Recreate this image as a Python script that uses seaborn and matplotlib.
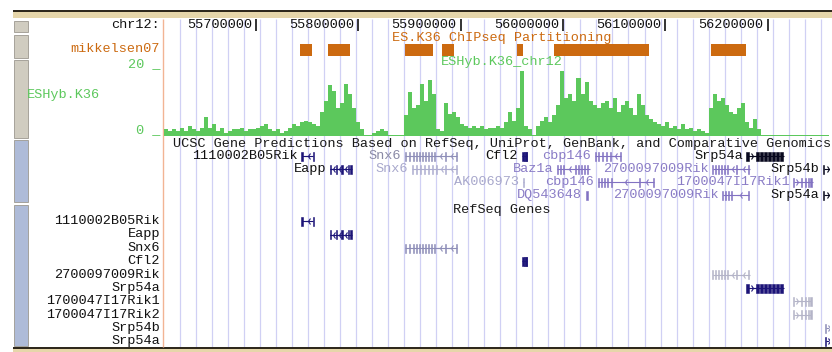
import matplotlib.pyplot as plt
import matplotlib.patches as mpatches
import numpy as np
import pandas as pd
import seaborn as sns

W, H = 832, 352

# browser window on chr12
view_start = 55609000
view_end = 56260000
ruler_ticks = [55700000, 55800000, 55900000, 56000000, 56100000, 56200000]
title_pos = 55940000

# ES.K36 ChIPseq Partitioning (mikkelsen07) enriched intervals
k36_starts = [55743000, 55770400, 55845800, 55882000, 55955400, 55991600, 56144200]
k36_ends = [55754800, 55792000, 55873200, 55893700, 55961300, 56084500, 56178500]

# ESHyb.K36_chr12 wiggle, one value per bin (0-20 scale)
wig_start = 55612000
wig_step = 3914
wig_values = [
    2, 1.5, 2, 1.5, 2.5, 1.5, 3, 2, 1.5, 2.5,
    5.5, 2.5, 3.5, 1.5, 2.5, 1, 1.5, 2, 2, 2.5,
    1.5, 2, 2, 2.5, 3, 3.5, 2, 1.5, 2, 1,
    1.5, 2.5, 3.5, 3, 4, 4.5, 4, 3.5, 3, 7,
    10, 14.5, 13, 8, 9.5, 15, 12, 8, 4, 2,
    0.5, 0.5, 1, 1.5, 2, 1.5, 0.3, 0.3, 0.3, 0.5,
    6, 12.5, 8, 9, 15, 10, 16, 12, 2, 1.5,
    9.5, 6.5, 7, 5.5, 3.5, 3, 2.5, 3, 2.5, 3,
    2, 2.5, 2.5, 3, 2.5, 4, 7, 4.5, 8, 18.5,
    3, 2, 0.5, 3, 4.5, 5.5, 4, 6, 9, 18.5,
    11, 12, 10, 16.5, 12, 15.5, 10, 9, 8, 9.5,
    10, 8, 11, 7, 9, 10, 8, 6, 12, 9,
    6, 5, 4, 3.5, 3, 4, 2.5, 3, 2, 3.5,
    2, 2.5, 1.5, 2, 1.5, 1, 8, 12, 10, 11,
    9, 7, 6.5, 8, 9.5, 4, 2.5, 5, 2,
    0.3, 0.3, 0.3, 0.3, 0.3, 0.3, 0.3, 0.3, 0.3,
    0.3, 0.3, 0.3, 0.3, 0.3, 0.3, 0.3, 0.3, 0.3,
]

# UCSC Gene Predictions (packed rows)
ucsc_names = ["1110002B05Rik", "Snx6", "Cfl2", "cbp146", "Srp54a",
              "Eapp", "Snx6", "Baz1a", "2700097009Rik", "Srp54b",
              "AK006973", "cbp146", "1700047I17Rik1",
              "DQ543648", "2700097009Rik", "Srp54a"]
ucsc_rows = [0, 0, 0, 0, 0, 1, 1, 1, 1, 1, 2, 2, 2, 3, 3, 3]
ucsc_starts = [55745000, 55845800, 55960300, 56031700, 56180400,
               55772400, 55852600, 55994500, 56146200, 56254800,
               55961300, 56034600, 56225500,
               56023000, 56156000, 56254800]
ucsc_ends = [55755800, 55896700, 55965200, 56056200, 56215700,
             55793900, 55896700, 56026800, 56182400, 56266000,
             55962000, 56088500, 56244100,
             56023700, 56181400, 56266000]
ucsc_strands = ["-", "-", "-", "-", "+", "-", "-", "-", "-", "+",
                "-", "-", "+", "-", "-", "+"]
ucsc_exons = [
    [55745000, 55755800],
    [55845800, 55849700, 55853600, 55856600, 55859500, 55862400, 55865400,
     55868300, 55871200, 55874200, 55884900, 55895700],
    [55961000, 55962400, 55963800, 55964600],
    [56031700, 56034600, 56038600, 56042500, 56046400, 56056200],
    [56180400, 56190200, 56194100, 56198000, 56201900, 56205800, 56209700, 56213600],
    [55772400, 55778300, 55784100, 55790000, 55792900],
    [55852600, 55856600, 55860500, 55864400, 55868300, 55872200, 55876100,
     55884900, 55895700],
    [55994500, 55997500, 56000400, 56012100, 56015100, 56018000, 56021000, 56023900],
    [56146200, 56149200, 56152100, 56155000, 56158000, 56160900, 56169700, 56181400],
    [56254800],
    [55961600],
    [56034600, 56037500, 56040500, 56043400, 56047300, 56074700, 56088500],
    [56225500, 56233300, 56237200, 56240100, 56242500],
    [56023300],
    [56156000, 56158900, 56161900, 56164800, 56181400],
    [56254800],
]
ucsc_tones = ["dark", "grey", "dark", "purple", "black",
              "dark", "light", "purple", "purple", "black",
              "light", "purple", "purple",
              "purple", "purple", "black"]

# RefSeq Genes (full mode, one per row)
refseq_names = ["1110002B05Rik", "Eapp", "Snx6", "Cfl2", "2700097009Rik", "Srp54a",
                "1700047I17Rik1", "1700047I17Rik2", "Srp54b", "Srp54a"]
refseq_starts = [55745000, 55772400, 55845800, 55960300, 56146200, 56180400,
                 56225500, 56225500, 56256800, 56256800]
refseq_ends = [55755800, 55793900, 55896700, 55965200, 56182400, 56215700,
               56242500, 56242500, 56266000, 56266000]
refseq_strands = ["-", "-", "-", "-", "-", "+", "+", "+", "+", "+"]
refseq_exons = [
    [55745000, 55755800],
    [55772400, 55778300, 55784100, 55790000, 55792900],
    [55845800, 55849700, 55853600, 55856600, 55859500, 55862400, 55865400,
     55868300, 55871200, 55874200, 55884900, 55895700],
    [55961000, 55962400, 55963800, 55964600],
    [56146200, 56149200, 56152100, 56155000, 56158000, 56160900, 56169700, 56181400],
    [56180400, 56190200, 56194100, 56198000, 56201900, 56205800, 56209700, 56213600],
    [56225500, 56233300, 56237200, 56240100, 56242500],
    [56225500, 56233300, 56237200, 56240100, 56242500],
    [56256800],
    [56256800],
]
refseq_tones = ["dark", "dark", "grey", "dark", "pale", "dark", "pale", "pale", "grey", "dark"]

gene_colors = {"dark": "#1c1478", "black": "#08081e", "purple": "#8272c2",
               "grey": "#8e8eb8", "light": "#aeaed0", "pale": "#b4b4c8"}
label_colors = {"dark": "#111111", "black": "#111111", "purple": "#8a7cc6",
                "grey": "#8a8aa6", "light": "#a8a8cc", "pale": "#b4b4c8"}

orange = "#cc6a10"
green = "#5cc85c"
ucsc_row_y = [156, 169, 182, 195]
refseq_row_y = [221, 234.5, 248, 261, 274.5, 288, 301, 314.5, 328, 341]

sns.set_style("white")
plt.rcParams["font.family"] = ["Liberation Mono", "DejaVu Sans Mono"]
plt.rcParams["font.size"] = 9.7

fig = plt.figure(figsize=(W / 100, H / 100), dpi=100)


def px_axes(x0, y0, x1, y1):
    return fig.add_axes([x0 / W, 1 - y1 / H, (x1 - x0) / W, (y1 - y0) / H])


def draw_gene(ax, y, start, end, exons, strand, color, exon_bp=1300):
    ax.hlines(y, start, end, color=color, lw=0.8)
    for e in exons:
        ax.add_patch(mpatches.Rectangle((e - exon_bp / 2, y - 4.5), exon_bp, 9,
                                        facecolor=color, edgecolor=color, lw=0.4))
    pts = sorted(exons)
    mids = [(a + b) / 2 for a, b in zip(pts[:-1], pts[1:]) if b - a > 4500]
    if pts[-1] < end - 3000:
        mids.append((pts[-1] + end) / 2)
    if mids:
        ax.plot(mids, [y] * len(mids), ls="none", marker="3" if strand == "-" else "4",
                ms=5, mew=0.8, color=color)


# frame / chrome
ax_bg = px_axes(0, 0, W, H)
ax_bg.set_xlim(0, W)
ax_bg.set_ylim(H, 0)
ax_bg.axis("off")
ax_bg.add_patch(mpatches.Rectangle((13, 11), W - 13, 7, color="#e6d6aa", lw=0))
ax_bg.hlines(10.5, 13, W, color="#2a2418", lw=1.4)
ax_bg.add_patch(mpatches.Rectangle((13, 348), W - 13, 4, color="#e6d6aa", lw=0))
ax_bg.hlines(347.5, 13, W, color="#2a2418", lw=1.4)
for y0, y1, fc in [(21, 32, "#d0ccc0"), (35, 58, "#d0ccc0"), (60, 138, "#d0ccc0"),
                   (140, 202, "#aebbd8"), (205, 346, "#aebbd8")]:
    ax_bg.add_patch(mpatches.Rectangle((14, y0), 14, y1 - y0, facecolor=fc,
                                       edgecolor="#9c9890", lw=0.6))
ax_bg.vlines(163, 19, 347, color="#f2b494", lw=1)

ax_bg.text(160, 25, "chr12:", ha="right", va="center", color="#111111")
ax_bg.text(160, 49, "mikkelsen07", ha="right", va="center", color=orange)
ax_bg.text(160, 64, "20 _", ha="right", va="center", color=green)
ax_bg.text(27, 95, "ESHyb.K36", ha="left", va="center", color=green)
ax_bg.text(160, 130, "0 _", ha="right", va="center", color=green)
for name, y in zip(refseq_names, refseq_row_y):
    ax_bg.text(160, y, name, ha="right", va="center", color="#111111")

# main browser panel: x in genome coordinates, y in image rows
ax = px_axes(163, 19, 829, 347)
ax.set_xlim(view_start, view_end)
ax.set_ylim(347, 19)
ax.axis("off")
ax.patch.set_visible(False)

guides = np.arange(view_start + 16635, view_end, 15656)
ax.vlines(guides, 19, 347, color="#d0d0f4", lw=0.9, zorder=0)

ax.vlines(ruler_ticks, 19, 31, color="#111111", lw=1.2)
for t in ruler_ticks:
    ax.annotate(str(t), (t, 25), xytext=(-3, 0), textcoords="offset points",
                ha="right", va="center", color="#111111")

ax.text(title_pos, 38, "ES.K36 ChIPseq Partitioning", ha="center", va="center", color=orange)
ax.barh(y=[50] * len(k36_starts), width=np.array(k36_ends) - np.array(k36_starts),
        left=k36_starts, height=12, color=orange, lw=0)
ax.text(title_pos, 62, "ESHyb.K36_chr12", ha="center", va="center", color=green)

ax.text(title_pos, 144, "UCSC Gene Predictions Based on RefSeq, UniProt, GenBank, and Comparative Genomics",
        ha="center", va="center", color="#1a1a1a")
for name, row, s, e, strand, ex, tone in zip(ucsc_names, ucsc_rows, ucsc_starts, ucsc_ends,
                                             ucsc_strands, ucsc_exons, ucsc_tones):
    y = ucsc_row_y[row]
    bp = 2600 if tone == "black" and name == "Srp54a" and len(ex) > 2 else 1300
    draw_gene(ax, y, s, e, ex, strand, gene_colors[tone], bp)
    ax.annotate(name, (s, y), xytext=(-3, 0), textcoords="offset points",
                ha="right", va="center", color=label_colors[tone], annotation_clip=False)

ax.text(title_pos, 209.5, "RefSeq Genes", ha="center", va="center", color="#1a1a1a")
for y, s, e, strand, ex, tone, name in zip(refseq_row_y, refseq_starts, refseq_ends,
                                           refseq_strands, refseq_exons, refseq_tones,
                                           refseq_names):
    bp = 2600 if name == "Srp54a" and len(ex) > 2 else 1300
    draw_gene(ax, y, s, e, ex, strand, gene_colors[tone], bp)

# wiggle track
ax_wig = px_axes(163, 66, 829, 136.5)
wig = pd.DataFrame({
    "pos": wig_start + wig_step * np.arange(len(wig_values)),
    "signal": wig_values,
})
sns.barplot(data=wig, x="pos", y="signal", native_scale=True, width=1,
            color=green, saturation=1, errorbar=None, linewidth=0, ax=ax_wig)
ax_wig.set_xlim(view_start, view_end)
ax_wig.set_ylim(0, 20)
ax_wig.axis("off")
ax_wig.patch.set_visible(False)

fig.savefig("out.png", dpi=100)
